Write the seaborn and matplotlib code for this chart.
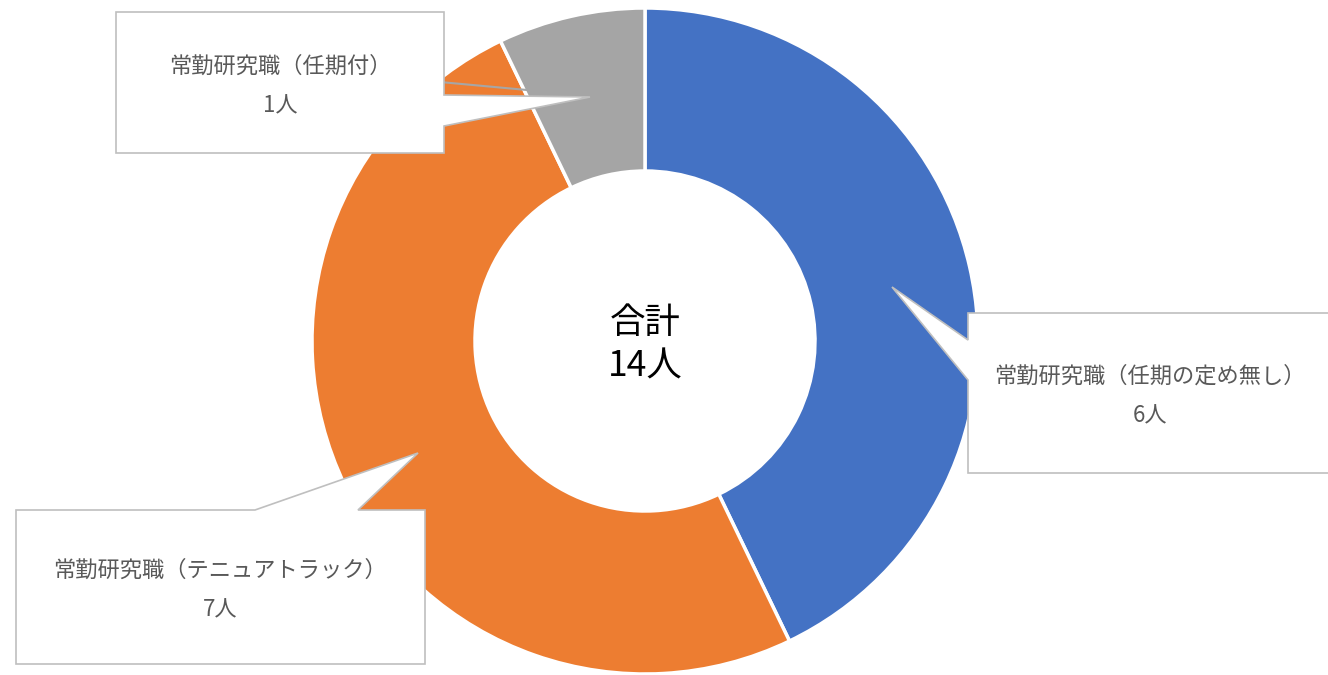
import matplotlib
matplotlib.use("Agg")
import matplotlib.pyplot as plt
import seaborn as sns
from matplotlib.patches import Polygon

# data
categories = ["常勤研究職（任期の定め無し）", "常勤研究職（テニュアトラック）", "常勤研究職（任期付）"]
counts = [6, 7, 1]
colors = ["#4472C4", "#ED7D31", "#A5A5A5"]
total_label = "合計\n{}人".format(sum(counts))

W, H = 1328, 675

sns.set_theme(style="white")
plt.rcParams["font.family"] = ["Noto Sans CJK JP", "DejaVu Sans"]

fig = plt.figure(figsize=(W / 100, H / 100), dpi=100)
ax = fig.add_axes([0, 0, 1, 1])

# axis is in pixel units with y pointing down, so counterclock=True
# with startangle=-90 runs clockwise from 12 o'clock on screen
ax.pie(counts, colors=colors, center=(645, 341), radius=333,
       startangle=-90, counterclock=True,
       wedgeprops=dict(width=163, edgecolor="white", linewidth=2.5))
ax.set_xlim(0, W)
ax.set_ylim(H, 0)
ax.set_aspect("equal")
ax.axis("off")

ax.text(645, 345, total_label, ha="center", va="center",
        fontsize=25.5, color="black", linespacing=1.25)


def callout(x0, y0, x1, y1, side, b0, b1, tip):
    if side == "top":
        pts = [(x0, y0), (b0, y0), tip, (b1, y0), (x1, y0), (x1, y1), (x0, y1)]
    elif side == "right":
        pts = [(x0, y0), (x1, y0), (x1, b0), tip, (x1, b1), (x1, y1), (x0, y1)]
    else:
        pts = [(x0, y0), (x1, y0), (x1, y1), (x0, y1), (x0, b1), tip, (x0, b0)]
    ax.add_patch(Polygon(pts, closed=True, facecolor="white",
                         edgecolor="#BFBFBF", linewidth=1.2, zorder=5))


# layout of the three callouts (box, pointer side, pointer base, tip, text centre)
callouts = [
    dict(box=(968, 313, 1345, 473), side="left", base=(340, 380), tip=(892, 287), txt=(1150, 396)),
    dict(box=(16, 510, 425, 664), side="top", base=(255, 358), tip=(418, 453), txt=(220, 590)),
    dict(box=(116, 12, 444, 153), side="right", base=(95, 126), tip=(590, 97), txt=(280, 86)),
]

# leader line of the small slice
ax.plot([440, 527], [82, 90], color="#A6A6A6", linewidth=1.5, zorder=4)

for cat, n, c in zip(categories, counts, callouts):
    x0, y0, x1, y1 = c["box"]
    callout(x0, y0, x1, y1, c["side"], c["base"][0], c["base"][1], c["tip"])
    ax.text(c["txt"][0], c["txt"][1], "{}\n{}人".format(cat, n), ha="center", va="center",
            fontsize=16, color="#595959", linespacing=1.95, zorder=6)

fig.savefig("out.png", dpi=100)
